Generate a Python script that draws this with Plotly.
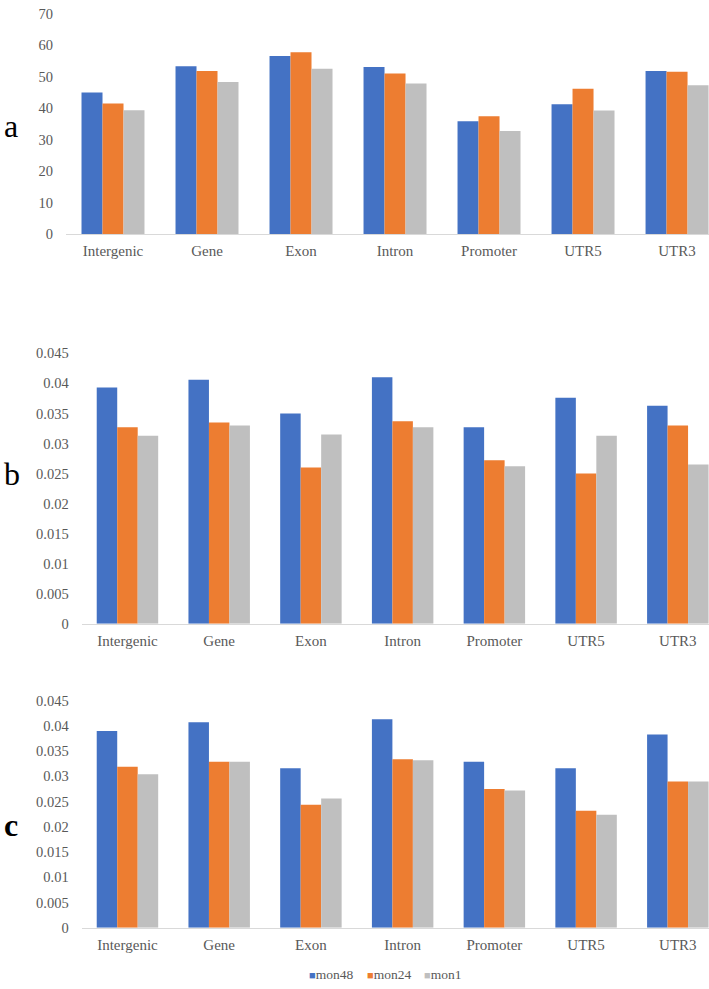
import plotly.graph_objects as go

categories = ["Intergenic", "Gene", "Exon", "Intron", "Promoter", "UTR5", "UTR3"]
series_names = ["mon48", "mon24", "mon1"]
colors = ["#4472C4", "#ED7D31", "#BFBFBF"]

a_mon48 = [45.0, 53.4, 56.6, 53.1, 35.9, 41.3, 51.9]
a_mon24 = [41.5, 51.9, 57.8, 51.1, 37.5, 46.2, 51.6]
a_mon1 = [39.4, 48.4, 52.6, 47.9, 32.8, 39.3, 47.3]

b_mon48 = [0.0393, 0.0406, 0.0350, 0.0410, 0.0327, 0.0376, 0.0363]
b_mon24 = [0.0327, 0.0335, 0.0260, 0.0337, 0.0272, 0.0250, 0.0330]
b_mon1 = [0.0313, 0.0330, 0.0315, 0.0327, 0.0262, 0.0313, 0.0265]

c_mon48 = [0.0390, 0.0407, 0.0316, 0.0413, 0.0329, 0.0316, 0.0383]
c_mon24 = [0.0319, 0.0329, 0.0244, 0.0334, 0.0275, 0.0232, 0.0290]
c_mon1 = [0.0304, 0.0329, 0.0256, 0.0332, 0.0272, 0.0224, 0.0290]

a_ticks = [0, 10, 20, 30, 40, 50, 60, 70]
a_ticktext = ["0", "10", "20", "30", "40", "50", "60", "70"]
bc_ticks = [0, 0.005, 0.01, 0.015, 0.02, 0.025, 0.03, 0.035, 0.04, 0.045]
bc_ticktext = ["0", "0.005", "0.01", "0.015", "0.02", "0.025", "0.03", "0.035", "0.04", "0.045"]

W, H = 709, 989
FONT = "Liberation Serif"
GRAY = "#595959"

fig = go.Figure()

panels = [
    ("x", "y", [a_mon48, a_mon24, a_mon1]),
    ("x2", "y2", [b_mon48, b_mon24, b_mon1]),
    ("x3", "y3", [c_mon48, c_mon24, c_mon1]),
]
for xa, ya, data in panels:
    for name, vals, col in zip(series_names, data, colors):
        fig.add_trace(go.Bar(
            x=categories, y=vals, name=name, marker_color=col,
            marker_line_width=0, xaxis=xa, yaxis=ya, showlegend=False,
        ))

def ydom(top_px, bot_px):
    return [1 - bot_px / H, 1 - top_px / H]

xrange_ = [-0.5, 6.34]
xcommon = dict(
    type="category", range=xrange_, showline=True, linecolor="#D9D9D9",
    linewidth=1, showgrid=False, zeroline=False,
    ticks="outside", ticklen=3, tickcolor="rgba(0,0,0,0)",
    tickfont=dict(family=FONT, size=15, color=GRAY),
)
ycommon = dict(
    showgrid=False, zeroline=False, showline=False,
    ticks="outside", ticklen=9, tickcolor="rgba(0,0,0,0)",
    tickfont=dict(family=FONT, size=14.5, color=GRAY),
)

fig.update_layout(
    width=W, height=H,
    margin=dict(l=0, r=0, t=0, b=0),
    paper_bgcolor="white", plot_bgcolor="white",
    barmode="group", bargap=0.33, bargroupgap=0,
    font=dict(family=FONT, color=GRAY),
    showlegend=False,
    xaxis=dict(xcommon, domain=[66 / W, 1], anchor="y"),
    xaxis2=dict(xcommon, domain=[81.6 / W, 1], anchor="y2"),
    xaxis3=dict(xcommon, domain=[81.6 / W, 1], anchor="y3"),
    yaxis=dict(ycommon, domain=ydom(6, 230), range=[0, 70],
               tickvals=a_ticks, ticktext=a_ticktext, anchor="x"),
    yaxis2=dict(ycommon, domain=ydom(351, 626), range=[0, 0.045],
                tickvals=bc_ticks, ticktext=bc_ticktext, anchor="x2"),
    yaxis3=dict(ycommon, domain=ydom(704, 935), range=[0, 0.045],
                tickvals=bc_ticks, ticktext=bc_ticktext, anchor="x3"),
)

for label, ypx, bold in [("a", 120, False), ("b", 474, False), ("c", 830, True)]:
    fig.add_annotation(
        text=("<b>%s</b>" % label) if bold else label,
        xref="paper", yref="paper", x=2 / W, y=1 - ypx / H,
        xanchor="left", yanchor="middle", showarrow=False,
        font=dict(family=FONT, size=32, color="black"),
    )

# legend entries
legend_x = [307, 365, 422]
for name, col, lx in zip(series_names, colors, legend_x):
    fig.add_annotation(
        text="<span style='color:%s;font-size:11px'>\u25A0</span>%s" % (col, name),
        xref="paper", yref="paper", x=lx / W, y=1 - 982 / H,
        xanchor="left", yanchor="middle", showarrow=False,
        font=dict(family=FONT, size=13.5, color=GRAY),
    )

fig.write_html(
    "out.html",
    config={"displayModeBar": False},
    post_script="document.body.style.margin='0';document.body.style.overflow='hidden';",
)
